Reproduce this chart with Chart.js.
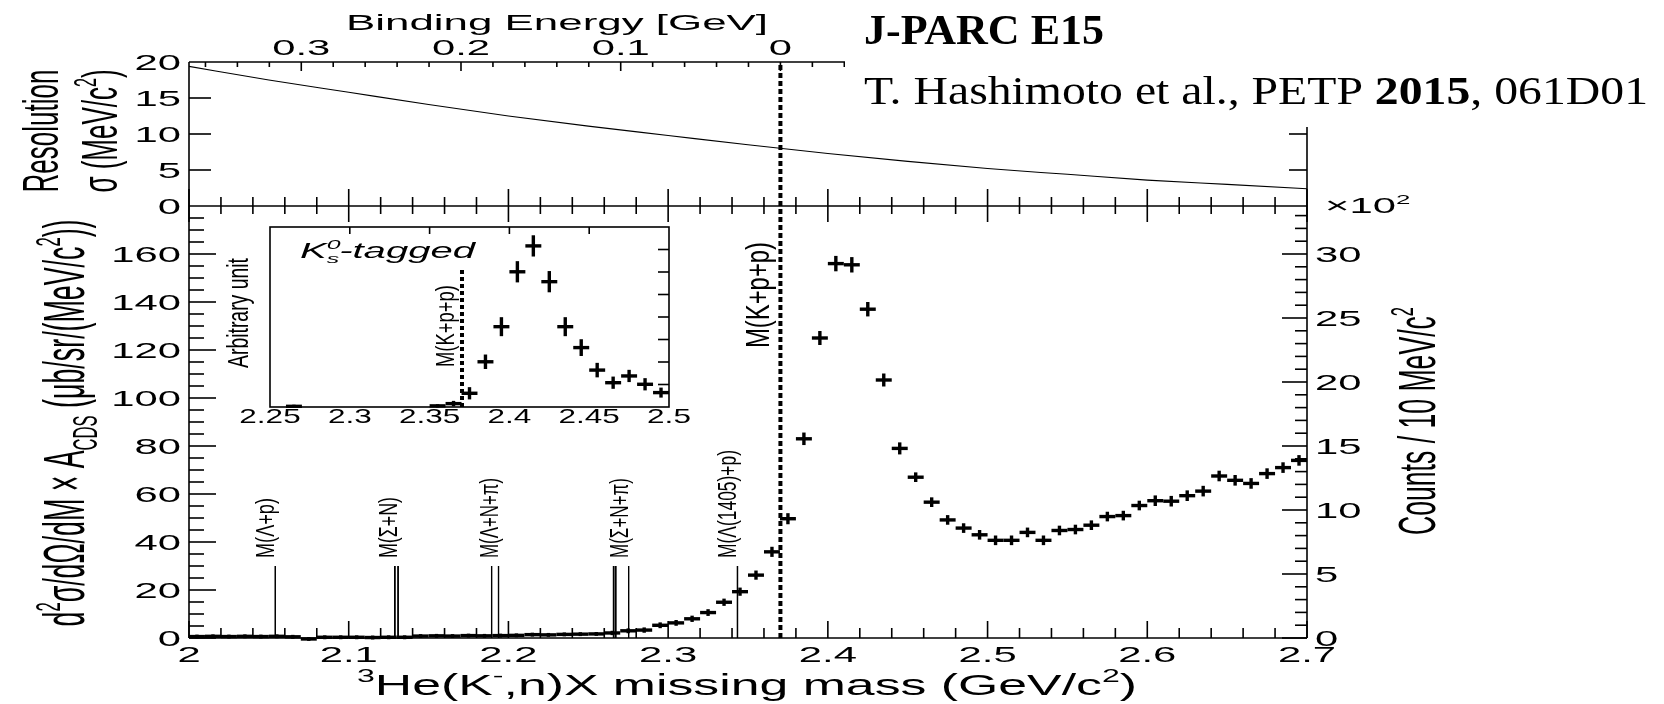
<!DOCTYPE html>
<html>
<head>
<meta charset="utf-8">
<script src="https://cdn.jsdelivr.net/npm/chart.js@4.4.1/dist/chart.umd.min.js"></script>
<style>
  html, body { margin: 0; padding: 0; background: #fff; }
  #wrap { position: relative; width: 1664px; height: 704px; }
  #wrap canvas { position: absolute; left: 0; top: 0; }
</style>
</head>
<body>
<div id="wrap">
  <canvas id="mainChart" width="1664" height="704"></canvas>
  <canvas id="insetChart" width="1664" height="704"></canvas>
</div>
<script>
// Missing-mass bins (GeV/c^2), 10 MeV wide
const massBins = [
  2.005, 2.015, 2.025, 2.035, 2.045, 2.055, 2.065, 2.075, 2.085, 2.095,
  2.105, 2.115, 2.125, 2.135, 2.145, 2.155, 2.165, 2.175, 2.185, 2.195,
  2.205, 2.215, 2.225, 2.235, 2.245, 2.255, 2.265, 2.275, 2.285, 2.295,
  2.305, 2.315, 2.325, 2.335, 2.345, 2.355, 2.365, 2.375, 2.385, 2.395,
  2.405, 2.415, 2.425, 2.435, 2.445, 2.455, 2.465, 2.475, 2.485, 2.495,
  2.505, 2.515, 2.525, 2.535, 2.545, 2.555, 2.565, 2.575, 2.585, 2.595,
  2.605, 2.615, 2.625, 2.635, 2.645, 2.655, 2.665, 2.675, 2.685, 2.695
];
// d2sigma/dOmega/dM x A_CDS (ub/sr/(MeV/c^2))
const crossSection = [
  0.6, 0.7, 0.6, 0.7, 0.6, 0.7, 0.5, -0.4, 0.3, 0.3,
  0.3, 0.2, 0.3, 0.3, 0.8, 0.9, 0.8, 1.0, 0.9, 1.0,
  1.1, 1.4, 1.3, 1.5, 1.6, 1.7, 2.1, 3.0, 3.3, 5.3,
  6.3, 8.0, 10.6, 14.9, 19.3, 26.2, 35.9, 49.7, 83.0, 125.0,
  156.0, 155.5, 137.0, 107.5, 79.0, 67.0, 56.6, 49.2, 45.8, 43.0,
  40.7, 40.7, 44.0, 40.7, 44.8, 45.2, 47.0, 50.6, 51.0, 55.2,
  57.2, 57.0, 59.3, 61.2, 67.5, 65.7, 64.4, 68.5, 71.0, 74.0
];
const crossErr = [
  0.6, 0.6, 0.6, 0.6, 0.6, 0.6, 0.6, 0.6, 0.6, 0.6,
  0.6, 0.6, 0.6, 0.6, 0.6, 0.6, 0.6, 0.6, 0.6, 0.6,
  0.6, 0.6, 0.6, 0.6, 0.6, 0.6, 0.7, 0.8, 0.9, 1.0,
  1.0, 1.1, 1.2, 1.3, 1.5, 1.7, 1.9, 2.1, 2.4, 2.7,
  3.0, 3.0, 2.8, 2.5, 2.3, 1.8, 1.8, 1.8, 1.8, 1.8,
  1.8, 1.8, 1.8, 1.8, 1.8, 1.8, 1.8, 1.8, 1.8, 1.8,
  2.0, 2.0, 2.0, 2.0, 2.0, 2.0, 2.0, 2.0, 2.0, 2.0
];

// resolution curve sigma (MeV/c^2) vs missing mass
const sigmaMass = [2.00, 2.05, 2.10, 2.15, 2.20, 2.25, 2.30, 2.35, 2.40, 2.45, 2.50, 2.55, 2.60, 2.65, 2.70];
const sigmaRes  = [19.4, 17.5, 15.8, 14.1, 12.5, 11.1, 9.8, 8.5, 7.3, 6.2, 5.2, 4.4, 3.6, 3.0, 2.4];

// thresholds (GeV/c^2)
const kppMass = 2.3703;
const thresholdLines = [2.0540, 2.1289, 2.1309, 2.1895, 2.1938, 2.2659, 2.2672, 2.2753, 2.3434];
const thresholdWidth = [1.5, 1.8, 1.8, 1.4, 1.4, 1.8, 1.8, 1.4, 1.5];
const thresholdLabels = ['M(Λ+p)', 'M(Σ+N)', 'M(Λ+N+π)', 'M(Σ+N+π)', 'M(Λ(1405)+p)'];
const thresholdLabelAt = [2.0540, 2.1309, 2.1938, 2.2753, 2.3434];
const thresholdTop = 30;

// K0s-tagged spectrum (arbitrary unit)
const insetMass = [2.265, 2.355, 2.365, 2.375, 2.385, 2.395, 2.405, 2.415, 2.425, 2.435, 2.445, 2.455, 2.465, 2.475, 2.485, 2.495];
const insetVal  = [0.03, 0.05, 0.15, 0.61, 2.01, 3.57, 6.01, 7.16, 5.57, 3.57, 2.64, 1.64, 1.08, 1.38, 1.01, 0.64];
const insetErr  = [0.05, 0.05, 0.1, 0.25, 0.3, 0.4, 0.45, 0.45, 0.45, 0.4, 0.35, 0.3, 0.25, 0.25, 0.25, 0.2];
const insetLineTop = 6.1;

// tick labels
const massTicks = [2.0, 2.1, 2.2, 2.3, 2.4, 2.5, 2.6, 2.7];
const massTickLabels = ['2', '2.1', '2.2', '2.3', '2.4', '2.5', '2.6', '2.7'];
const bindingTicks = [0.3, 0.2, 0.1, 0];
const bindingTickLabels = ['0.3', '0.2', '0.1', '0'];
const xsecTicks = [0, 20, 40, 60, 80, 100, 120, 140, 160];
const countTicks = [0, 5, 10, 15, 20, 25, 30];
const sigmaTicks = [0, 5, 10, 15, 20];
const insetTicks = [2.25, 2.3, 2.35, 2.4, 2.45, 2.5];
const insetTickLabels = ['2.25', '2.3', '2.35', '2.4', '2.45', '2.5'];

const SANS = '"Liberation Sans", Arial, Helvetica, sans-serif';
const SERIF = '"Liberation Serif", "Times New Roman", serif';

// text with optional sup/sub segments, horizontal stretch and rotation
function txt(ctx, segs, x, y, o) {
  if (typeof segs === 'string') segs = [{ t: segs }];
  const size = o.size, fam = o.family || SANS, sx = o.sx || 1;
  const fontFor = s => {
    const sz = (s.sup || s.sub) ? size * 0.62 : size;
    return (s.italic || o.italic ? 'italic ' : '') + (s.bold || o.bold ? 'bold ' : '') + sz + 'px ' + fam;
  };
  ctx.save();
  let w = 0, prevX = 0;
  const parts = segs.map(s => {
    ctx.font = fontFor(s);
    const mw = ctx.measureText(s.t).width;
    let px;
    if (s.stack) { px = prevX; } else { px = w; prevX = w; w += mw; }
    return { s, px };
  });
  ctx.translate(x, y);
  ctx.scale(sx, 1);
  if (o.rot) ctx.rotate(-Math.PI / 2);
  if (o.fit) ctx.scale(o.rot ? o.fit / w : o.fit / (w * sx), 1);
  const start = o.align === 'center' ? -w / 2 : o.align === 'right' ? -w : 0;
  ctx.fillStyle = '#000';
  ctx.textBaseline = 'alphabetic';
  ctx.textAlign = 'left';
  for (const p of parts) {
    ctx.font = fontFor(p.s);
    const dy = p.s.sup ? -size * 0.42 : p.s.sub ? size * 0.22 : 0;
    ctx.fillText(p.s.t, start + p.px, dy);
  }
  ctx.restore();
}

function seg(ctx, x1, y1, x2, y2) {
  ctx.beginPath();
  ctx.moveTo(x1, y1);
  ctx.lineTo(x2, y2);
  ctx.stroke();
}

// error crosses: bin width horizontally, error vertically
function drawCrosses(chart, dsIndex, xs, ys, errs, half) {
  const ctx = chart.ctx;
  const meta = chart.getDatasetMeta(dsIndex);
  const xScale = chart.scales[meta.xAxisID], yScale = chart.scales[meta.yAxisID];
  ctx.save();
  ctx.strokeStyle = '#000';
  ctx.lineWidth = 3.4;
  meta.data.forEach((pt, i) => {
    const x0 = xScale.getPixelForValue(xs[i] - half), x1 = xScale.getPixelForValue(xs[i] + half);
    const yt = yScale.getPixelForValue(ys[i] + errs[i]), yb = yScale.getPixelForValue(ys[i] - errs[i]);
    seg(ctx, x0, pt.y, x1, pt.y);
    seg(ctx, pt.x, yt - 0.5, pt.x, yb + 0.5);
  });
  ctx.restore();
}

const thresholdLen = [60, 61, 80, 80, 108];

const mainDecor = {
  id: 'mainDecor',
  afterDatasetsDraw(chart) {
    const { ctx, chartArea: a, scales: s } = chart;
    const px = v => s.x.getPixelForValue(v);
    const pBE = v => s.xBE.getPixelForValue(v);
    const py = v => s.y.getPixelForValue(v);
    const pc = v => s.yCounts.getPixelForValue(v);
    const ps = v => s.ySig.getPixelForValue(v);
    const top = ps(20), mid = ps(0), bot = py(0), L = a.left, R = a.right;

    ctx.save();
    ctx.strokeStyle = '#000';
    ctx.lineWidth = 1.6;
    seg(ctx, L, top, L, bot);
    seg(ctx, R, top, R, bot);
    seg(ctx, L, top, R, top);
    seg(ctx, L, mid, R, mid);
    seg(ctx, L, bot, R, bot);

    // mass axis ticks every 20 MeV
    for (let i = 0; i <= 35; i++) {
      const x = px(2 + i * 0.02), major = i % 5 === 0;
      seg(ctx, x, bot, x, bot - (major ? 17 : 10));
      seg(ctx, x, mid, x, mid + (major ? 16 : 8));
      seg(ctx, x, mid, x, mid - (major ? 17 : 9));
    }
    // binding energy ticks
    for (let j = -16; j <= 18; j++) {
      const x = pBE(j * 0.02), major = j % 5 === 0;
      seg(ctx, x, top, x, top + (major ? 9 : 5));
    }
    for (let v = 0; v < 180; v += 5) seg(ctx, L, py(v), L + (v % 20 === 0 ? 27 : 15), py(v));
    for (let c = 0; c <= 33; c++) seg(ctx, R, pc(c), R - (c % 5 === 0 ? 25 : 12), pc(c));
    for (const v of [5, 10, 15]) {
      seg(ctx, L, ps(v), L + 22, ps(v));
      seg(ctx, R, ps(v), R - 18, ps(v));
    }
    ctx.restore();

    drawCrosses(chart, chart.data.datasets.length - 1, massBins, crossSection, crossErr, 0.005);

    // tick labels
    const tk = { size: 22, sx: 1.9 };
    massTicks.forEach((m, i) => txt(ctx, massTickLabels[i], px(m), bot + 24, { ...tk, align: 'center' }));
    bindingTicks.forEach((v, i) => txt(ctx, bindingTickLabels[i], pBE(v), top - 7, { ...tk, align: 'center' }));
    xsecTicks.forEach(v => txt(ctx, String(v), L - 8, py(v) + 8, { ...tk, align: 'right' }));
    sigmaTicks.forEach(v => txt(ctx, String(v), L - 8, ps(v) + 8, { ...tk, align: 'right' }));
    countTicks.forEach(v => txt(ctx, String(v), R + 8, pc(v) + 8, { ...tk, align: 'left' }));
    txt(ctx, [{ t: '×10' }, { t: '2', sup: true }], R + 18, 213, { size: 22, sx: 1.9 });

    // axis titles
    txt(ctx, 'Binding Energy [GeV]', 557, 30, { size: 22, align: 'center', fit: 422 });
    txt(ctx, [{ t: '3', sup: true }, { t: 'He(K' }, { t: '-', sup: true }, { t: ',n)X missing mass (GeV/c' }, { t: '2', sup: true }, { t: ')' }],
      747, 695, { size: 30, align: 'center', fit: 780 });
    txt(ctx, 'Resolution', 58, 131, { size: 26, sx: 1.9, rot: true, align: 'center' });
    txt(ctx, [{ t: 'σ (MeV/c' }, { t: '2', sup: true }, { t: ')' }], 117, 131, { size: 26, sx: 1.9, rot: true, align: 'center' });
    txt(ctx, [{ t: 'd' }, { t: '2', sup: true }, { t: 'σ/dΩ/dM × A' }, { t: 'CDS', sub: true }, { t: ' (μb/sr/(MeV/c' }, { t: '2', sup: true }, { t: '))' }],
      84, 423, { size: 26.6, sx: 2.15, rot: true, align: 'center', fit: 407 });
    txt(ctx, [{ t: 'Counts / 10 MeV/c' }, { t: '2', sup: true }], 1435, 421, { size: 26.6, sx: 1.95, rot: true, align: 'center', fit: 228 });

    // threshold labels
    thresholdLabels.forEach((lab, i) => {
      txt(ctx, lab, px(thresholdLabelAt[i]) - 1, py(thresholdTop) - 8,
        { size: 18.5, sx: 1.4, rot: true, align: 'left', fit: thresholdLen[i] });
    });
    txt(ctx, 'M(K+p+p)', px(kppMass) - 11, 295, { size: 23.4, sx: 1.45, rot: true, align: 'center', fit: 106 });
  },
  afterDraw(chart) {
    const ctx = chart.ctx;
    ctx.save();
    ctx.fillStyle = '#fff';
    ctx.fillRect(845, 0, 819, 127);
    ctx.restore();
    txt(ctx, 'J-PARC E15', 864, 44, { size: 42, family: SERIF, bold: true, fit: 240 });
    txt(ctx, [{ t: 'T. Hashimoto et al., PETP ' }, { t: '2015', bold: true }, { t: ', 061D01' }], 864, 104,
      { size: 39, family: SERIF, fit: 784 });
  }
};

const insetDecor = {
  id: 'insetDecor',
  afterDatasetsDraw(chart) {
    const { ctx, chartArea: a, scales: s } = chart;
    const px = v => s.x.getPixelForValue(v);
    const py = v => s.y.getPixelForValue(v);
    const top = a.top, bot = a.bottom, L = a.left, R = a.right;
    ctx.save();
    ctx.strokeStyle = '#000';
    ctx.lineWidth = 1.6;
    ctx.strokeRect(L, top, R - L, bot - top);
    for (const m of [2.3, 2.35, 2.4, 2.45]) seg(ctx, px(m), top, px(m), top + 7);
    for (let v = 1; v <= 7; v++) seg(ctx, R, py(v), R - 11, py(v));
    ctx.restore();

    drawCrosses(chart, 1, insetMass, insetVal, insetErr, 0.005);

    insetTicks.forEach((m, i) => txt(ctx, insetTickLabels[i], px(m), bot + 16, { size: 21, sx: 1.5, align: 'center' }));
    txt(ctx, [{ t: 'K' }, { t: 's', sub: true }, { t: '0', sup: true, stack: true }, { t: '-tagged' }], 300, 258,
      { size: 22, italic: true, fit: 175 });
    txt(ctx, 'Arbitrary unit', 248, 313, { size: 19.4, sx: 1.5, rot: true, align: 'center', fit: 110 });
    txt(ctx, 'M(K+p+p)', px(kppMass) - 8, 326, { size: 18.4, sx: 1.45, rot: true, align: 'center', fit: 82 });
  }
};

const thresholdSets = thresholdLines.map((m, i) => ({
  type: 'line',
  data: [{ x: m, y: 0 }, { x: m, y: thresholdTop }],
  yAxisID: 'y',
  borderColor: '#000',
  borderWidth: thresholdWidth[i],
  pointRadius: 0
}));

new Chart(document.getElementById('mainChart'), {
  type: 'scatter',
  data: {
    datasets: [
      {
        type: 'line',
        label: 'Resolution',
        data: sigmaMass.map((m, i) => ({ x: m, y: sigmaRes[i] })),
        yAxisID: 'ySig',
        borderColor: '#000',
        borderWidth: 1.1,
        pointRadius: 0,
        cubicInterpolationMode: 'monotone'
      },
      {
        type: 'line',
        label: 'M(K+p+p)',
        data: [{ x: kppMass, y: -60 }, { x: kppMass, y: 20 }],
        yAxisID: 'ySig',
        borderColor: '#000',
        borderWidth: 4,
        borderDash: [5, 3],
        pointRadius: 0
      },
      ...thresholdSets,
      {
        label: 'Data',
        data: massBins.map((m, i) => ({ x: m, y: crossSection[i] })),
        yAxisID: 'y',
        pointRadius: 0
      }
    ]
  },
  options: {
    responsive: false,
    animation: false,
    devicePixelRatio: 1,
    events: [],
    layout: { padding: { left: 189, right: 357, top: 62, bottom: 66 } },
    plugins: { legend: { display: false }, tooltip: { enabled: false } },
    scales: {
      x: { type: 'linear', min: 2.0, max: 2.7, display: false },
      xBE: { type: 'linear', axis: 'x', position: 'top', min: kppMass - 2.7, max: kppMass - 2.0, reverse: true, display: false },
      y: { type: 'linear', min: 0, max: 240, display: false },
      yCounts: { type: 'linear', position: 'right', min: 0, max: 45, display: false },
      ySig: { type: 'linear', min: -60, max: 20, display: false }
    }
  },
  plugins: [mainDecor]
});

new Chart(document.getElementById('insetChart'), {
  type: 'scatter',
  data: {
    datasets: [
      {
        type: 'line',
        label: 'M(K+p+p)',
        data: [{ x: kppMass, y: 0 }, { x: kppMass, y: insetLineTop }],
        borderColor: '#000',
        borderWidth: 4,
        borderDash: [4, 3],
        pointRadius: 0
      },
      {
        label: 'K0s-tagged',
        data: insetMass.map((m, i) => ({ x: m, y: insetVal[i] })),
        pointRadius: 0
      }
    ]
  },
  options: {
    responsive: false,
    animation: false,
    devicePixelRatio: 1,
    events: [],
    layout: { padding: { left: 270, right: 995, top: 227, bottom: 297 } },
    plugins: { legend: { display: false }, tooltip: { enabled: false } },
    scales: {
      x: { type: 'linear', min: 2.25, max: 2.5, display: false },
      y: { type: 'linear', min: 0, max: 8, display: false }
    }
  },
  plugins: [insetDecor]
});
</script>
</body>
</html>
